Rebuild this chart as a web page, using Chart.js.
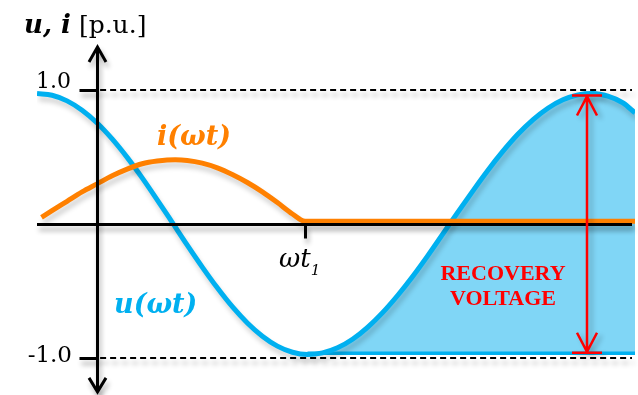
<!DOCTYPE html>
<html>
<head>
<meta charset="utf-8">
<script src="https://cdn.jsdelivr.net/npm/chart.js@4.4.1/dist/chart.umd.min.js"></script>
<style>
  html, body { margin: 0; padding: 0; background: #ffffff; }
  #wrap { width: 638px; height: 395px; position: relative; }
</style>
</head>
<body>
<div id="wrap"><canvas id="c" width="638" height="395"></canvas></div>
<script>
// Angle axis (ωt in degrees, 0 at the vertical axis)
const voltageAngles = [-40, -30, -20, -10, 0, 10, 20, 30, 40, 50, 60, 70, 80, 90, 100, 110, 120, 130, 140,
                       150, 160, 170, 180, 190, 200, 210, 220, 230, 240, 250, 260, 270, 280, 290, 300, 310,
                       320, 330, 340, 350, 358];
// Voltage u(ωt) in p.u.
const voltageValues = [0.975, 0.962, 0.920, 0.850, 0.755, 0.636, 0.498, 0.345, 0.181, 0.012, -0.158, -0.322,
                       -0.477, -0.618, -0.739, -0.838, -0.912, -0.958, -0.975,
                       -0.963, -0.925, -0.861, -0.772, -0.662, -0.534, -0.392, -0.238, -0.076, 0.087, 0.246,
                       0.400, 0.542, 0.670, 0.778, 0.865, 0.928, 0.965, 0.975, 0.955, 0.905, 0.830];
// Current i(ωt) in p.u. — interrupted at ωt1, zero afterwards
const currentAngles = [-37, -30, -20, -10, 0, 10, 20, 30, 40, 52, 60, 70, 80, 90, 100, 110, 120, 130, 138.5, 200, 280, 358];
const currentValues = [0.05, 0.10, 0.17, 0.24, 0.30, 0.36, 0.41, 0.45, 0.47, 0.48, 0.475, 0.455, 0.42, 0.37,
                       0.31, 0.24, 0.16, 0.075, 0.02, 0.02, 0.02, 0.02];
// Recovery voltage region: from the voltage minimum onwards
const recoveryStart = 140;
const recoveryFloor = -0.965;
const recoveryArrowAngle = 326;
const recoveryArrowTop = 0.96;
const recoveryArrowBottom = -0.962;
// Axis marks
const t1Angle = 138.5;
const yTickValues = [1.0, -1.0];
const yTickLabels = ['1.0', '-1.0'];

const CYAN = '#00b0f0';
const FILL = 'rgb(128,214,246)';
const ORANGE = '#ff8000';
const RED = '#ff0000';

const toPts = (xs, ys) => xs.map((x, i) => ({ x: x, y: ys[i] }));
const voltagePts = toPts(voltageAngles, voltageValues);
const recoveryPts = voltagePts.filter(p => p.x >= recoveryStart);

function shadow(ctx) {
  ctx.shadowColor = 'rgba(0,0,0,0.3)';
  ctx.shadowBlur = 5;
  ctx.shadowOffsetX = 2;
  ctx.shadowOffsetY = 5;
}

const decor = {
  id: 'decor',
  beforeDatasetsDraw(chart) {
    const { ctx, scales: { x, y } } = chart;
    ctx.save();
    shadow(ctx);
    ctx.strokeStyle = '#000';
    ctx.lineWidth = 2;
    ctx.setLineDash([6, 4]);
    yTickValues.forEach(v => {
      const py = Math.round(y.getPixelForValue(v));
      ctx.beginPath();
      ctx.moveTo(x.getPixelForValue(2), py);
      ctx.lineTo(x.getPixelForValue(356), py);
      ctx.stroke();
    });
    ctx.restore();
  },
  beforeDatasetDraw(chart, args) {
    if (chart.data.datasets[args.index].shadow) {
      chart.ctx.save();
      shadow(chart.ctx);
      chart.ctx.shadowColor = 'rgba(0,0,0,0.18)';
    }
  },
  afterDatasetDraw(chart, args) {
    if (chart.data.datasets[args.index].shadow) chart.ctx.restore();
  },
  afterDatasetsDraw(chart) {
    const { ctx, scales: { x, y } } = chart;
    const x0 = Math.round(x.getPixelForValue(0)) + 0.5;
    const y0 = Math.round(y.getPixelForValue(0)) + 0.5;
    ctx.save();
    shadow(ctx);
    ctx.strokeStyle = '#000';
    ctx.lineWidth = 3;
    ctx.lineCap = 'butt';
    // horizontal axis
    ctx.beginPath();
    ctx.moveTo(x.getPixelForValue(-40), y0);
    ctx.lineTo(x.getPixelForValue(358) - 3, y0);
    ctx.stroke();
    // vertical axis with arrows at both ends
    const yTop = y.getPixelForValue(1.322);
    const yBot = y.getPixelForValue(-1.254);
    ctx.beginPath();
    ctx.moveTo(x0, yTop + 1);
    ctx.lineTo(x0, yBot - 1);
    ctx.stroke();
    ctx.lineJoin = 'miter';
    ctx.beginPath();
    ctx.moveTo(x0 - 8.5, yTop + 15);
    ctx.lineTo(x0, yTop);
    ctx.lineTo(x0 + 8.5, yTop + 15);
    ctx.stroke();
    ctx.beginPath();
    ctx.moveTo(x0 - 8.5, yBot - 14);
    ctx.lineTo(x0, yBot);
    ctx.lineTo(x0 + 8.5, yBot - 14);
    ctx.stroke();
    // ticks
    yTickValues.forEach(v => {
      const py = Math.round(y.getPixelForValue(v)) + 0.5;
      ctx.beginPath();
      ctx.moveTo(x0 - 18, py);
      ctx.lineTo(x0, py);
      ctx.stroke();
    });
    const xt = Math.round(x.getPixelForValue(t1Angle)) + 0.5;
    ctx.beginPath();
    ctx.moveTo(xt, y0);
    ctx.lineTo(xt, y0 + 14);
    ctx.stroke();
    ctx.restore();

    // recovery voltage double arrow
    const xa = Math.round(x.getPixelForValue(recoveryArrowAngle));
    const ya = y.getPixelForValue(recoveryArrowTop);
    const yb = y.getPixelForValue(recoveryArrowBottom);
    ctx.save();
    ctx.shadowColor = 'rgba(0,0,0,0.25)';
    ctx.shadowBlur = 5;
    ctx.shadowOffsetX = 4;
    ctx.shadowOffsetY = 3;
    ctx.strokeStyle = RED;
    ctx.lineWidth = 2.5;
    ctx.beginPath();
    ctx.moveTo(xa, ya); ctx.lineTo(xa, yb);
    ctx.moveTo(xa - 15, ya); ctx.lineTo(xa + 15, ya);
    ctx.moveTo(xa - 15, yb); ctx.lineTo(xa + 15, yb);
    ctx.moveTo(xa - 10, ya + 20); ctx.lineTo(xa, ya + 1); ctx.lineTo(xa + 10, ya + 20);
    ctx.moveTo(xa - 10, yb - 20); ctx.lineTo(xa, yb - 1); ctx.lineTo(xa + 10, yb - 20);
    ctx.stroke();
    ctx.restore();

    // text
    ctx.save();
    ctx.textBaseline = 'alphabetic';
    ctx.fillStyle = '#000';
    ctx.textAlign = 'left';
    ctx.font = 'italic bold 26px "DejaVu Serif"';
    ctx.fillText('u, i', 24, 33);
    const w = ctx.measureText('u, i').width;
    ctx.font = '25px "DejaVu Serif"';
    ctx.fillText('[p.u.]', 24 + w + 8, 33);

    ctx.textAlign = 'right';
    ctx.font = '22px "DejaVu Serif"';
    ctx.fillText(yTickLabels[0], 71, y.getPixelForValue(yTickValues[0]) - 2);
    ctx.font = '23px "DejaVu Serif"';
    ctx.fillText(yTickLabels[1], 72, y.getPixelForValue(yTickValues[1]) + 4);

    ctx.textAlign = 'left';
    ctx.font = 'italic 26px "DejaVu Serif"';
    ctx.fillText('ωt', 279, 267);
    const wt = ctx.measureText('ωt').width;
    ctx.font = 'italic 15px "DejaVu Serif"';
    ctx.fillText('1', 279 + wt, 275);

    ctx.font = 'italic bold 27px "DejaVu Serif"';
    ctx.fillStyle = ORANGE;
    ctx.fillText('i(ωt)', 157, 145);
    ctx.fillStyle = CYAN;
    ctx.fillText('u(ωt)', 114, 313);

    ctx.fillStyle = RED;
    ctx.textAlign = 'center';
    ctx.font = 'bold 22px "Liberation Serif"';
    ctx.fillText('RECOVERY', 503, 280);
    ctx.fillText('VOLTAGE', 503, 305);
    ctx.restore();
  }
};

new Chart(document.getElementById('c'), {
  type: 'line',
  data: {
    datasets: [
      {
        label: 'i(ωt)',
        data: toPts(currentAngles, currentValues),
        borderColor: ORANGE,
        borderWidth: 5,
        pointRadius: 0,
        cubicInterpolationMode: 'monotone',
        fill: false,
        order: 1,
        shadow: true
      },
      {
        label: 'u(ωt)',
        data: voltagePts,
        borderColor: CYAN,
        borderWidth: 5,
        pointRadius: 0,
        cubicInterpolationMode: 'monotone',
        fill: false,
        order: 2,
        shadow: true
      },
      {
        label: 'floor',
        data: [{ x: recoveryStart, y: recoveryFloor }, { x: 358, y: recoveryFloor }],
        borderColor: CYAN,
        borderWidth: 3.5,
        pointRadius: 0,
        fill: false,
        order: 3
      },
      {
        label: 'recovery',
        data: recoveryPts,
        borderColor: 'rgba(0,0,0,0)',
        borderWidth: 0,
        backgroundColor: FILL,
        pointRadius: 0,
        cubicInterpolationMode: 'monotone',
        fill: { value: recoveryFloor },
        order: 4
      }
    ]
  },
  options: {
    responsive: false,
    animation: false,
    devicePixelRatio: 1,
    layout: { padding: { left: 37, right: 3, top: 50, bottom: 1 } },
    scales: {
      x: { type: 'linear', min: -40, max: 358, display: false },
      y: { type: 'linear', min: -1.27, max: 1.3, display: false }
    },
    plugins: { legend: { display: false }, tooltip: { enabled: false } },
    elements: { line: { borderCapStyle: 'butt' } }
  },
  plugins: [decor]
});
</script>
</body>
</html>
